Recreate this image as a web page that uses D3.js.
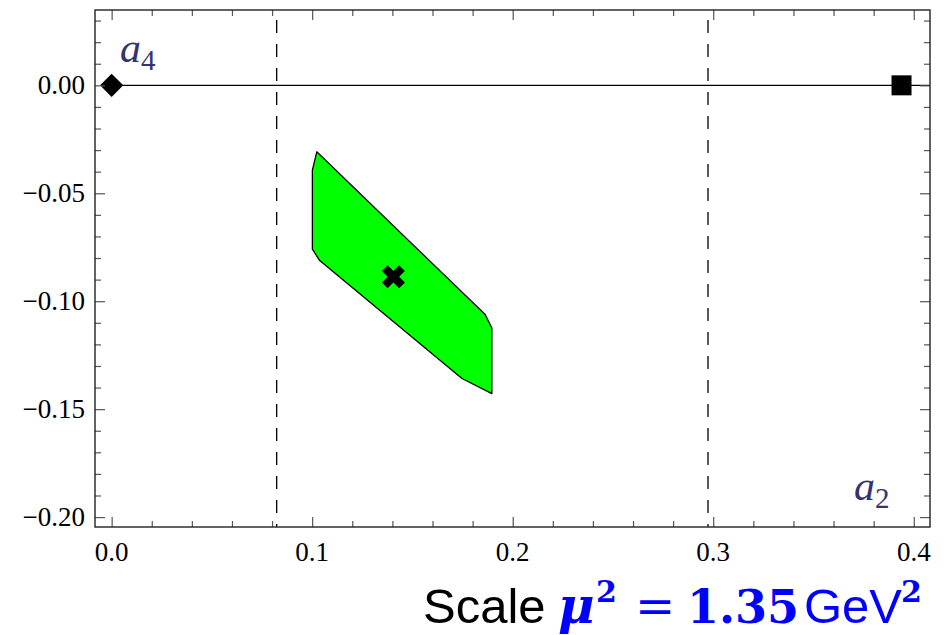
<!DOCTYPE html>
<html>
<head>
<meta charset="utf-8">
<script src="https://cdn.jsdelivr.net/npm/d3@7"></script>
<style>
  body { margin: 0; background: #fff; }
  .axis-label { font-family: "Liberation Serif", "Times New Roman", serif; font-size: 27px; fill: #000; }
  .point-label { font-family: "Liberation Serif", serif; font-style: italic; fill: #33336f; }
</style>
</head>
<body>
<div id="chart"></div>
<script>

// Region allowed for (a2, a4) -- polygon outline
var regionA2 = [0.1023, 0.1001, 0.1001, 0.1036, 0.1747, 0.1896, 0.1896, 0.1863];
var regionA4 = [-0.0308, -0.0393, -0.0759, -0.0810, -0.1358, -0.1428, -0.1124, -0.1062];

// Best fit point
var bestFit = [0.1405, -0.0887];

// Reference points (a2, a4)
var diamondPoint = [0.0, 0.0];
var squarePoint = [0.3939, 0.0];

// Dashed vertical bounds on a2
var a2Bounds = [0.0823, 0.2974];

// Tick values
var xMajorTicks = [0.0, 0.1, 0.2, 0.3, 0.4];
var yMajorTicks = [0.00, -0.05, -0.10, -0.15, -0.20];
var xTickLabels = ["0.0", "0.1", "0.2", "0.3", "0.4"];
var yTickLabels = ["0.00", "\u22120.05", "\u22120.10", "\u22120.15", "\u22120.20"];

ContourPlot = function(_parentElement){
  this.parentElement = _parentElement;
  this.initVis();
}

ContourPlot.prototype.initVis = function(){
  var vis = this;

  vis.margin = { top: 10, right: 16, bottom: 108, left: 95 };
  vis.width = 946 - vis.margin.left - vis.margin.right;
  vis.height = 635 - vis.margin.top - vis.margin.bottom;

  vis.root = d3.select("#" + vis.parentElement).append("svg")
    .attr("width", 946)
    .attr("height", 635);

  vis.svg = vis.root.append("g")
    .attr("transform", "translate(" + vis.margin.left + "," + vis.margin.top + ")");

  vis.x = d3.scaleLinear()
    .domain([-0.0083, 0.4081])
    .range([0, vis.width]);

  vis.y = d3.scaleLinear()
    .domain([-0.2046, 0.0349])
    .range([vis.height, 0]);

  vis.clip = vis.svg.append("clipPath").attr("id", "plot-clip")
    .append("rect")
    .attr("width", vis.width)
    .attr("height", vis.height);

  vis.plot = vis.svg.append("g").attr("clip-path", "url(#plot-clip)");

  vis.drawAxes();
  vis.updateVis();
}

ContourPlot.prototype.drawAxes = function(){
  var vis = this;

  var xMinor = d3.range(0, 0.41, 0.02).filter(function(d){
    return Math.abs(Math.round(d * 10) - d * 10) > 1e-6;
  });
  var yMinor = d3.range(-20, 4).map(function(d){ return d / 100; }).filter(function(d){
    return Math.abs(Math.round(d * 20) - d * 20) > 1e-6;
  });

  // Mathematica style frame: inward ticks on every side
  function frameAxis(axisFn, scale, ticks, size){
    return axisFn(scale).tickValues(ticks).tickSize(-size).tickFormat("");
  }

  var sides = [
    { fn: d3.axisBottom, s: vis.x, t: "translate(0," + vis.height + ")" },
    { fn: d3.axisTop, s: vis.x, t: "translate(0,0)" },
    { fn: d3.axisLeft, s: vis.y, t: "translate(0,0)" },
    { fn: d3.axisRight, s: vis.y, t: "translate(" + vis.width + ",0)" }
  ];

  sides.forEach(function(side){
    var isX = side.s === vis.x;
    var major = isX ? xMajorTicks : yMajorTicks;
    var minor = isX ? xMinor : yMinor;

    var gMajor = vis.svg.append("g").attr("transform", side.t)
      .call(frameAxis(side.fn, side.s, major, 10));
    var gMinor = vis.svg.append("g").attr("transform", side.t)
      .call(frameAxis(side.fn, side.s, minor, 6));

    [gMajor, gMinor].forEach(function(g){
      g.select(".domain").remove();
      g.selectAll(".tick line")
        .attr("stroke", "#555")
        .attr("stroke-width", 1.2);
    });
  });

  // Tick labels
  vis.svg.selectAll(".x-label")
    .data(xMajorTicks)
    .enter()
    .append("text")
    .attr("class", "axis-label x-label")
    .attr("x", function(d){ return vis.x(d); })
    .attr("y", vis.height + 34)
    .attr("text-anchor", "middle")
    .text(function(d, i){ return xTickLabels[i]; });

  vis.svg.selectAll(".y-label")
    .data(yMajorTicks)
    .enter()
    .append("text")
    .attr("class", "axis-label y-label")
    .attr("x", -10)
    .attr("y", function(d){ return vis.y(d); })
    .attr("dy", "0.32em")
    .attr("text-anchor", "end")
    .text(function(d, i){ return yTickLabels[i]; });

  // Frame
  vis.svg.append("rect")
    .attr("width", vis.width)
    .attr("height", vis.height)
    .attr("fill", "none")
    .attr("stroke", "#222")
    .attr("stroke-width", 1.4);
}

ContourPlot.prototype.updateVis = function(){
  var vis = this;

  // Horizontal line at a4 = 0
  vis.plot.append("line")
    .attr("x1", vis.x(diamondPoint[0]))
    .attr("x2", vis.width)
    .attr("y1", vis.y(0))
    .attr("y2", vis.y(0))
    .attr("stroke", "#000")
    .attr("stroke-width", 1.2);

  // Dashed bounds
  vis.plot.selectAll(".bound")
    .data(a2Bounds)
    .enter()
    .append("line")
    .attr("class", "bound")
    .attr("x1", function(d){ return vis.x(d); })
    .attr("x2", function(d){ return vis.x(d); })
    .attr("y1", 10)
    .attr("y2", vis.height)
    .attr("stroke", "#000")
    .attr("stroke-width", 1.3)
    .attr("stroke-dasharray", "13,11");

  // Allowed region
  var pts = regionA2.map(function(d, i){
    return [vis.x(d), vis.y(regionA4[i])];
  });
  vis.plot.append("path")
    .attr("d", d3.line()(pts) + "Z")
    .attr("fill", "#00ff00")
    .attr("stroke", "#000")
    .attr("stroke-width", 1.3)
    .attr("stroke-linejoin", "round");

  // Best fit marker (thick X)
  vis.plot.append("path")
    .attr("d", d3.symbol().type(d3.symbolCross).size(330)())
    .attr("transform", "translate(" + vis.x(bestFit[0]) + "," + vis.y(bestFit[1]) + ") rotate(45)")
    .attr("fill", "#000");

  // Diamond (a4 end point)
  vis.plot.append("path")
    .attr("d", d3.symbol().type(d3.symbolSquare).size(270)())
    .attr("transform", "translate(" + vis.x(diamondPoint[0]) + "," + vis.y(diamondPoint[1]) + ") rotate(45)")
    .attr("fill", "#000");

  // Square (a2 end point)
  vis.plot.append("path")
    .attr("d", d3.symbol().type(d3.symbolSquare).size(400)())
    .attr("transform", "translate(" + vis.x(squarePoint[0]) + "," + vis.y(squarePoint[1]) + ")")
    .attr("fill", "#000");

  // Point labels
  var a4 = vis.svg.append("text")
    .attr("class", "point-label")
    .attr("x", 25)
    .attr("y", 52)
    .style("font-size", "42px");
  a4.append("tspan").text("a");
  a4.append("tspan").attr("dy", 8).style("font-size", "29px").style("font-style", "normal").text("4");

  var a2 = vis.svg.append("text")
    .attr("class", "point-label")
    .attr("x", 759)
    .attr("y", 490)
    .style("font-size", "42px");
  a2.append("tspan").text("a");
  a2.append("tspan").attr("dy", 8).style("font-size", "29px").style("font-style", "normal").text("2");

  // Scale caption, pieces placed like the typeset original
  var serif = "'DejaVu Serif', serif";
  var sans = "'Liberation Sans', Arial, sans-serif";
  var capParts = [
    { t: "Scale", x: 423, y: 623, f: sans, s: 49, w: "normal", i: "normal", c: "#000" },
    { t: "\u03bc", x: 558, y: 623, f: serif, s: 50, w: "bold", i: "italic", c: "#0000ff" },
    { t: "2", x: 596, y: 602, f: serif, s: 30, w: "bold", i: "normal", c: "#0000ff" },
    { t: "=", x: 635, y: 623, f: serif, s: 48, w: "normal", i: "normal", c: "#0000ff" },
    { t: "1.35", x: 687, y: 623, f: serif, s: 46, w: "bold", i: "normal", c: "#0000ff" },
    { t: "GeV", x: 804, y: 623, f: sans, s: 49, w: "normal", i: "normal", c: "#0000ff" },
    { t: "2", x: 901, y: 602, f: serif, s: 30, w: "bold", i: "normal", c: "#0000ff" }
  ];
  vis.root.selectAll(".caption")
    .data(capParts)
    .enter()
    .append("text")
    .attr("class", "caption")
    .attr("x", function(d){ return d.x; })
    .attr("y", function(d){ return d.y; })
    .style("font-family", function(d){ return d.f; })
    .style("font-size", function(d){ return d.s + "px"; })
    .style("font-weight", function(d){ return d.w; })
    .style("font-style", function(d){ return d.i; })
    .attr("fill", function(d){ return d.c; })
    .text(function(d){ return d.t; });
}

var plot = new ContourPlot("chart");
</script>
</body>
</html>
